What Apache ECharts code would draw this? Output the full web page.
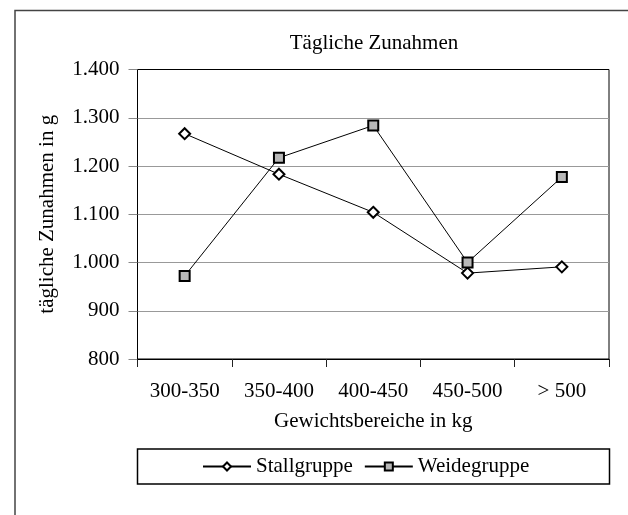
<!DOCTYPE html>
<html>
<head>
<meta charset="utf-8">
<script src="https://cdn.jsdelivr.net/npm/echarts@6/dist/echarts.min.js"></script>
<style>
  html, body { margin: 0; padding: 0; background: #fff; }
  #chart { width: 628px; height: 515px; }
</style>
</head>
<body>
<div id="chart"></div>
<script>
const categories = ['300-350', '350-400', '400-450', '450-500', '> 500']
const stallgruppe = [1267, 1183, 1104, 978, 991]
const weidegruppe = [972, 1217, 1284, 1000, 1177]

const serif = 'Liberation Serif, Times New Roman, serif'

const chart = echarts.init(document.getElementById('chart'))

const fmt = v => {
  const s = String(v)
  return s.length > 3 ? s.slice(0, -3) + '.' + s.slice(-3) : s
}

const option = {
  animation: false,
  backgroundColor: '#fff',
  title: {
    text: 'Tägliche Zunahmen',
    left: 374,
    top: 33,
    padding: 0,
    textAlign: 'center',
    textStyle: { fontFamily: serif, fontSize: 21, fontWeight: 'normal', color: '#000' }
  },
  legend: {
    left: 202,
    top: 456,
    padding: 0,
    itemWidth: 48,
    itemHeight: 10,
    itemGap: 11,
    textStyle: { fontFamily: serif, fontSize: 21, color: '#000' },
    data: ['Stallgruppe', 'Weidegruppe']
  },
  grid: {
    left: 137.5,
    right: 19,
    top: 69.5,
    bottom: 156,
    show: true,
    borderColor: '#000',
    borderWidth: 1
  },
  xAxis: {
    type: 'category',
    data: categories,
    boundaryGap: true,
    name: 'Gewichtsbereiche in kg',
    nameLocation: 'middle',
    nameGap: 52,
    nameTextStyle: { fontFamily: serif, fontSize: 21, color: '#000', verticalAlign: 'top' },
    axisLine: { lineStyle: { color: '#000', width: 1 } },
    axisTick: { show: true, length: 8, lineStyle: { color: '#222' } },
    axisLabel: { margin: 22, fontFamily: serif, fontSize: 21, color: '#000' }
  },
  yAxis: {
    type: 'value',
    min: 800,
    max: 1400,
    interval: 100,
    name: 'tägliche Zunahmen in g',
    nameLocation: 'middle',
    nameGap: 80,
    nameTextStyle: { fontFamily: serif, fontSize: 21, color: '#000' },
    axisLine: { show: true, lineStyle: { color: '#000', width: 1 } },
    axisTick: { show: true, length: 9, lineStyle: { color: '#888' } },
    axisLabel: { margin: 18, fontFamily: serif, fontSize: 21, color: '#000', formatter: fmt },
    splitLine: { show: true, showMinLine: false, showMaxLine: false, lineStyle: { color: '#999', width: 1 } }
  },
  series: [
    {
      name: 'Stallgruppe',
      type: 'line',
      data: stallgruppe,
      symbol: 'diamond',
      symbolSize: 11,
      lineStyle: { color: '#000', width: 1 },
      itemStyle: { color: '#fff', borderColor: '#000', borderWidth: 2 }
    },
    {
      name: 'Weidegruppe',
      type: 'line',
      data: weidegruppe,
      symbol: 'rect',
      symbolSize: 10,
      lineStyle: { color: '#000', width: 1 },
      itemStyle: { color: '#b8b8b8', borderColor: '#000', borderWidth: 2 }
    }
  ],
  graphic: [
    {
      type: 'rect',
      shape: { x: 137.5, y: 449, width: 472, height: 35 },
      style: { fill: 'none', stroke: '#000', lineWidth: 1.5 },
      z: -1
    },
    {
      type: 'polyline',
      shape: { points: [[15, 515], [15, 10.5], [628, 10.5]] },
      style: { fill: 'none', stroke: '#444', lineWidth: 1.5 },
      z: -1
    }
  ]
}

chart.setOption(option)
</script>
</body>
</html>
